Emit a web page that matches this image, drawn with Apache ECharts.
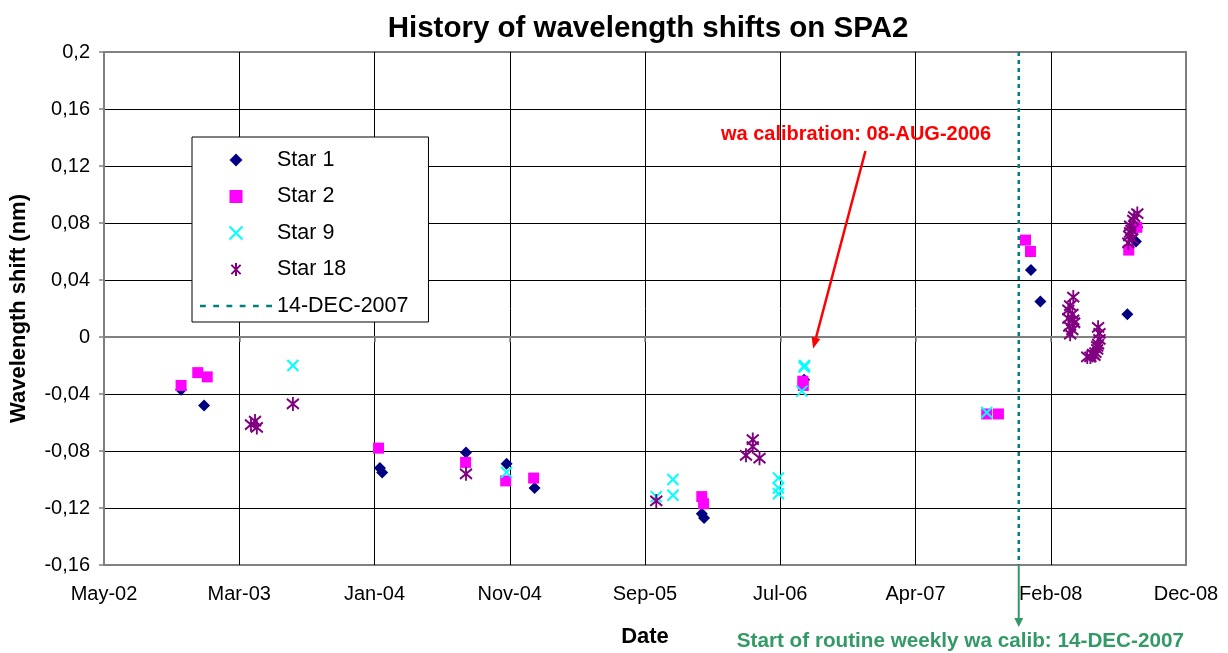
<!DOCTYPE html>
<html>
<head>
<meta charset="utf-8">
<title>History of wavelength shifts on SPA2</title>
<script src="https://cdn.jsdelivr.net/npm/echarts@6/dist/echarts.min.js"></script>
<style>
  html, body { margin: 0; padding: 0; background: #fff; }
  #chart { width: 1228px; height: 653px; }
</style>
</head>
<body>
<div id="chart"></div>
<script>
// date axis (Excel style): starts 25-May-2002, a major tick every 300 days
const axisStart = '2002-05-25';
const tickDays = 300;
const axisDays = 2400;
const yMin = -0.16, yMax = 0.2, yStep = 0.04;

// [date, wavelength shift (nm)]
const star1 = [
    ['2002-11-12', -0.037], ['2003-01-02', -0.048],
    ['2004-01-27', -0.092], ['2004-02-01', -0.095],
    ['2004-08-05', -0.081], ['2004-11-03', -0.089], ['2005-01-04', -0.106],
    ['2006-01-10', -0.124], ['2006-01-15', -0.127],
    ['2006-08-25', -0.030],
    ['2008-01-10', 0.047], ['2008-01-31', 0.025],
    ['2008-08-11', 0.016], ['2008-08-30', 0.067], ['2008-09-02', 0.077],
];
const star2 = [
    ['2002-11-12', -0.034], ['2002-12-19', -0.025], ['2003-01-09', -0.028],
    ['2004-01-24', -0.078], ['2004-08-04', -0.088], ['2004-11-01', -0.101], ['2005-01-02', -0.099],
    ['2006-01-10', -0.112], ['2006-01-14', -0.117],
    ['2006-08-22', -0.031], ['2006-08-23', -0.034],
    ['2007-10-04', -0.054], ['2007-10-30', -0.054],
    ['2007-12-29', 0.068], ['2008-01-09', 0.060],
    ['2008-08-14', 0.061], ['2008-09-01', 0.077],
];
const star9 = [
    ['2003-07-18', -0.020], ['2004-11-03', -0.095],
    ['2005-10-01', -0.112], ['2005-11-07', -0.100], ['2005-11-07', -0.111],
    ['2006-06-29', -0.099], ['2006-06-29', -0.106], ['2006-06-29', -0.110],
    ['2006-08-25', -0.021], ['2006-08-26', -0.020], ['2006-08-20', -0.038],
    ['2007-10-04', -0.053],
];
const star18 = [
    ['2003-04-16', -0.0615], ['2003-04-25', -0.059], ['2003-04-29', -0.0635],
    ['2003-07-18', -0.047], ['2004-08-05', -0.096], ['2005-10-01', -0.115],
    ['2006-04-18', -0.083], ['2006-05-03', -0.072], ['2006-05-03', -0.077], ['2006-05-18', -0.085],
    ['2008-04-13', 0.028], ['2008-04-06', 0.022], ['2008-04-02', 0.019], ['2008-04-11', 0.016],
    ['2008-04-02', 0.013], ['2008-04-15', 0.010], ['2008-04-04', 0.0075], ['2008-04-11', 0.005],
    ['2008-04-06', 0.002], ['2008-04-13', 0.012],
    ['2008-05-14', -0.014], ['2008-05-21', -0.014], ['2008-05-27', -0.012], ['2008-06-01', -0.011],
    ['2008-06-05', -0.0086], ['2008-06-07', -0.005], ['2008-06-10', -0.0016], ['2008-06-10', 0.0026],
    ['2008-06-07', 0.0068], ['2008-06-05', -0.0065], ['2008-05-30', -0.013],
    ['2008-09-02', 0.0866], ['2008-08-24', 0.082], ['2008-08-17', 0.078], ['2008-08-20', 0.075],
    ['2008-08-15', 0.071], ['2008-08-22', 0.069], ['2008-08-13', 0.066], ['2008-08-17', 0.0735],
    ['2008-08-26', 0.0845],
];
const routineStart = '2007-12-14';

// annotations (placed in data coordinates)
const calibNote = {
    text: 'wa calibration: 08-AUG-2006',
    label: ['2006-12-18', 0.142],
    from: ['2007-01-08', 0.1305],
    to: ['2006-09-14', -0.008],
};
const routineNote = 'Start of routine weekly wa calib: 14-DEC-2007';

const FONT = '"Liberation Sans", Arial, sans-serif';
const DAY = 86400000;
const MONTHS = ['Jan', 'Feb', 'Mar', 'Apr', 'May', 'Jun', 'Jul', 'Aug', 'Sep', 'Oct', 'Nov', 'Dec'];

const DIAMOND = 'path://M5,0L10,5L5,10L0,5Z';
const SQUARE = 'path://M0,0h10v10h-10z';
const CROSS = 'path://M0,0L10,10M10,0L0,10';
const ASTERISK = 'path://M1,2L11,12M11,2L1,12M6,0L6,14';

const toUTC = (s) => {
    const [y, m, d] = s.split('-').map(Number);
    return Date.UTC(y, m - 1, d);
};
const t0 = toUTC(axisStart);
const dayOf = (s) => (toUTC(s) - t0) / DAY;
const toPoints = (arr) => arr.map((p) => [dayOf(p[0]), p[1]]);

const fmtDay = (v) => {
    const d = new Date(t0 + v * DAY);
    return MONTHS[d.getUTCMonth()] + '-' + String(d.getUTCFullYear() % 100).padStart(2, '0');
};
const fmtShift = (v) => {
    const r = Math.round(v * 100) / 100;
    return String(r).replace('.', ',');
};

// dashed legend icon for the vertical marker line
let dashIcon = 'path://';
for (let i = 0; i < 6; i++) dashIcon += 'M' + i * 12.5 + ',0h5.5v2.5h-5.5z';

const chart = echarts.init(document.getElementById('chart'));

const option = {
    animation: false,
    backgroundColor: '#fff',
    textStyle: { fontFamily: FONT },
    title: {
        text: 'History of wavelength shifts on SPA2',
        left: 643,
        top: 9,
        textAlign: 'center',
        textStyle: { fontFamily: FONT, fontSize: 29.5, fontWeight: 'bold', color: '#000' },
    },
    legend: {
        orient: 'vertical',
        left: 192,
        top: 137,
        padding: [12, 20, 5, 8],
        itemWidth: 72,
        itemHeight: 13,
        itemGap: 14.5,
        symbolKeepAspect: true,
        backgroundColor: '#fff',
        borderColor: '#000',
        borderWidth: 1,
        borderRadius: 0,
        textStyle: { fontFamily: FONT, fontSize: 21.5, color: '#000' },
        data: [
            { name: 'Star 1', icon: DIAMOND },
            { name: 'Star 2', icon: SQUARE },
            { name: 'Star 9', icon: CROSS },
            { name: 'Star 18', icon: ASTERISK },
            { name: '14-DEC-2007', icon: dashIcon },
        ],
    },
    grid: {
        left: 104, top: 52, width: 1082, height: 513,
        outerBoundsMode: 'none',
        show: true, borderColor: '#808080', borderWidth: 2,
    },
    xAxis: {
        type: 'value',
        min: 0,
        max: axisDays,
        interval: tickDays,
        name: 'Date',
        nameLocation: 'middle',
        nameGap: 61,
        nameTextStyle: { fontFamily: FONT, fontSize: 22, fontWeight: 'bold', color: '#000' },
        axisLine: { lineStyle: { color: '#808080', width: 2 } },
        axisTick: { length: 5, lineStyle: { color: '#808080', width: 1.5 } },
        axisLabel: { margin: 19, fontSize: 20, color: '#000', fontFamily: FONT, formatter: fmtDay },
        splitLine: { show: true, showMinLine: false, showMaxLine: false, lineStyle: { color: '#000', width: 1 } },
    },
    yAxis: {
        type: 'value',
        min: yMin,
        max: yMax,
        interval: yStep,
        name: 'Wavelength shift (nm)',
        nameLocation: 'middle',
        nameGap: 74,
        nameTextStyle: { fontFamily: FONT, fontSize: 22, fontWeight: 'bold', color: '#000' },
        axisLine: { show: true, lineStyle: { color: '#808080', width: 2 } },
        axisTick: { show: true, length: 5, lineStyle: { color: '#808080', width: 1.5 } },
        axisLabel: { margin: 14, fontSize: 20, color: '#000', fontFamily: FONT, formatter: fmtShift },
        splitLine: { show: true, showMinLine: false, showMaxLine: false, lineStyle: { color: '#000', width: 1 } },
    },
    series: [
        {
            name: 'Star 1',
            type: 'scatter',
            symbol: 'diamond',
            symbolSize: 12,
            itemStyle: { color: '#000080', opacity: 1 },
            data: toPoints(star1),
        },
        {
            name: 'Star 2',
            type: 'scatter',
            symbol: 'rect',
            symbolSize: 11,
            itemStyle: { color: '#FF00FF', opacity: 1 },
            data: toPoints(star2),
        },
        {
            name: 'Star 9',
            type: 'scatter',
            symbol: CROSS,
            symbolSize: 11,
            itemStyle: { color: 'rgba(0,0,0,0)', borderColor: '#00FFFF', borderWidth: 2, opacity: 1 },
            data: toPoints(star9),
        },
        {
            name: 'Star 18',
            type: 'scatter',
            symbol: ASTERISK,
            symbolSize: [12, 14],
            itemStyle: { color: 'rgba(0,0,0,0)', borderColor: '#800080', borderWidth: 2, opacity: 1 },
            data: toPoints(star18),
        },
        {
            name: '14-DEC-2007',
            type: 'line',
            symbol: 'none',
            itemStyle: { color: '#008080' },
            lineStyle: { color: '#008080', width: 2.5, type: [4, 4] },
            data: [[dayOf(routineStart), yMax], [dayOf(routineStart), yMin]],
        },
    ],
};

chart.setOption(option);

// arrow helper: line plus filled head
const arrow = (from, to, color, width, headLen, headW) => {
    const a = Math.atan2(to[1] - from[1], to[0] - from[0]);
    const bx = to[0] - headLen * Math.cos(a), by = to[1] - headLen * Math.sin(a);
    const nx = -Math.sin(a) * headW / 2, ny = Math.cos(a) * headW / 2;
    return [
        { type: 'line', shape: { x1: from[0], y1: from[1], x2: bx, y2: by }, style: { stroke: color, lineWidth: width }, z: 100 },
        { type: 'polygon', shape: { points: [to, [bx + nx, by + ny], [bx - nx, by - ny]] }, style: { fill: color }, z: 100 },
    ];
};

const px = (p) => chart.convertToPixel({ gridIndex: 0 }, [dayOf(p[0]), p[1]]);
const lab = px(calibNote.label);
const routineBase = px([routineStart, yMin]);

chart.setOption({
    graphic: [
        {
            type: 'text',
            x: lab[0], y: lab[1],
            style: { text: calibNote.text, fill: '#FF0000', font: 'bold 20px ' + FONT, align: 'center', verticalAlign: 'middle' },
            z: 100,
        },
        ...arrow(px(calibNote.from), px(calibNote.to), '#FF0000', 2.5, 11, 9),
        ...arrow([routineBase[0], routineBase[1] + 1], [routineBase[0], routineBase[1] + 62], '#339966', 2, 9, 9),
        {
            type: 'text',
            x: routineBase[0] - 282, y: routineBase[1] + 76,
            style: { text: routineNote, fill: '#339966', font: 'bold 20.7px ' + FONT, align: 'left', verticalAlign: 'middle' },
            z: 100,
        },
    ],
});
</script>
</body>
</html>
